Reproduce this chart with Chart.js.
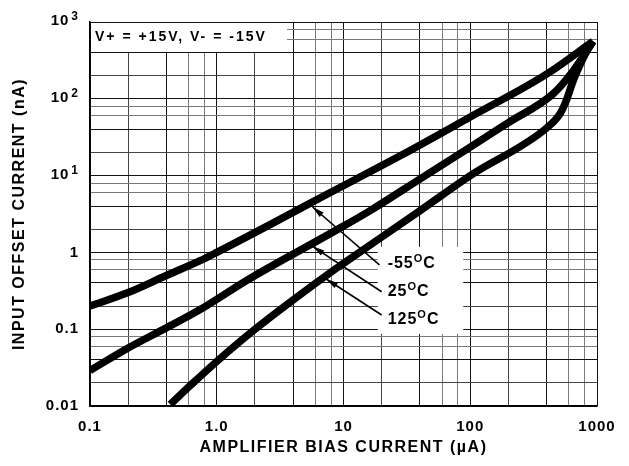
<!DOCTYPE html>
<html>
<head>
<meta charset="utf-8">
<script src="https://cdn.jsdelivr.net/npm/chart.js@4"></script>
<style>
  html, body { margin: 0; padding: 0; background: #fff; }
  #wrap { width: 629px; height: 466px; position: relative; }
</style>
</head>
<body>
<div id="wrap"><canvas id="chart"></canvas></div>
<script>
// Input offset current vs amplifier bias current (V+ = +15V, V- = -15V)
const seriesNames = ['-55', '25', '125'];

// -55°C curve
const biasNeg55 = [0.1, 0.2, 0.4, 0.74, 1, 2.5, 7.8, 28, 100, 403, 930];
const offsetNeg55 = [0.2, 0.3, 0.5, 0.78, 1.0, 2.2, 5.97, 18.1, 58, 211, 560];

// 25°C curve
const bias25 = [0.1, 0.2, 0.4, 0.74, 1.8, 8.3, 16, 40, 100, 200, 450, 650, 930];
const offset25 = [0.029, 0.057, 0.104, 0.18, 0.45, 1.85, 3.45, 9, 23.5, 49, 116, 232, 560];

// 125°C curve
const bias125 = [0.43, 0.63, 1, 1.93, 4, 8.9, 10, 40, 100, 403, 511, 567, 647, 700, 834, 930];
const offset125 = [0.0105, 0.019, 0.038, 0.095, 0.24, 0.63, 0.72, 3.48, 10, 42, 64, 91, 170, 232, 422, 560];

const xTickValues = [0.1, 1, 10, 100, 1000];
const xTickLabels = ['0.1', '1.0', '10', '100', '1000'];
const yTickValues = [0.01, 0.1, 1, 10, 100, 1000];
const yTickLabels = ['0.01', '0.1', '1', '10^1', '10^2', '10^3'];
const gridSteps = [1, 2, 4, 6, 8];

const FONT = '"Liberation Sans", Arial, Helvetica, sans-serif';

function gridValues(min, max) {
    const out = [];
    for (let e = Math.round(Math.log10(min)); e <= Math.round(Math.log10(max)); e++) {
        gridSteps.forEach(s => {
            const v = s * Math.pow(10, e);
            if (v <= max * 1.0001) out.push(v);
        });
    }
    return out;
}

function gridColor(ctx) {
    const v = ctx.tick ? ctx.tick.value : 1;
    const m = Math.round(v / Math.pow(10, Math.floor(Math.log10(v) + 1e-9)));
    if (m === 6 || m === 8) return '#7a7a7a';
    if (m === 2) return '#444';
    return '#111';
}

function toPoints(xs, ys) {
    return xs.map((x, i) => ({ x: x, y: ys[i] }));
}

function arrow(ctx, x1, y1, x2, y2) {
    ctx.beginPath();
    ctx.moveTo(x1, y1);
    ctx.lineTo(x2, y2);
    ctx.stroke();
    const a = Math.atan2(y2 - y1, x2 - x1), len = 12, half = 3;
    ctx.beginPath();
    ctx.moveTo(x2, y2);
    ctx.lineTo(x2 - len * Math.cos(a) + half * Math.sin(a), y2 - len * Math.sin(a) - half * Math.cos(a));
    ctx.lineTo(x2 - len * Math.cos(a) - half * Math.sin(a), y2 - len * Math.sin(a) + half * Math.cos(a));
    ctx.closePath();
    ctx.fill();
}

// callouts: label anchor, arrow tail and tip, all in data units
const callouts = [
    { text: [22.3, 0.63], tail: [19.2, 0.69], tip: [5.7, 3.9] },
    { text: [22.3, 0.272], tail: [20, 0.307], tip: [5.7, 1.2] },
    { text: [22.3, 0.118], tail: [20, 0.153], tip: [7.3, 0.45] }
];

const decorations = {
    id: 'decorations',
    beforeDraw(chart) {
        chart.ctx.letterSpacing = '1px';
    },
    beforeDatasetsDraw(chart) {
        const { ctx, chartArea: ca, scales: { x, y } } = chart;
        ctx.save();
        ctx.fillStyle = '#fff';
        // supply voltage box, top left
        ctx.fillRect(ca.left + 1, ca.top + 1, 196, 29);
        // callout label box
        const bx1 = x.getPixelForValue(18.6), bx2 = x.getPixelForValue(88);
        const by1 = y.getPixelForValue(1.18), by2 = y.getPixelForValue(0.087);
        ctx.fillRect(bx1, by1, bx2 - bx1, by2 - by1);
        ctx.restore();
    },
    afterDatasetsDraw(chart) {
        const { ctx, chartArea: ca, scales: { x, y } } = chart;
        ctx.save();
        ctx.fillStyle = '#000';
        ctx.strokeStyle = '#000';
        ctx.lineWidth = 1.6;
        ctx.textBaseline = 'alphabetic';
        ctx.textAlign = 'left';
        ctx.font = 'bold 14px ' + FONT;
        ctx.letterSpacing = '2px';
        ctx.fillText('V+ = +15V, V- = -15V', ca.left + 5, ca.top + 19);

        callouts.forEach((c, i) => {
            arrow(ctx, x.getPixelForValue(c.tail[0]), y.getPixelForValue(c.tail[1]),
                x.getPixelForValue(c.tip[0]), y.getPixelForValue(c.tip[1]));
            let tx = x.getPixelForValue(c.text[0]);
            const ty = y.getPixelForValue(c.text[1]);
            ctx.letterSpacing = '1px';
            ctx.font = 'bold 16px ' + FONT;
            ctx.fillText(seriesNames[i], tx, ty);
            tx += ctx.measureText(seriesNames[i]).width;
            ctx.font = 'bold 11px ' + FONT;
            ctx.fillText('O', tx, ty - 6);
            tx += ctx.measureText('O').width;
            ctx.font = 'bold 16px ' + FONT;
            ctx.fillText('C', tx, ty);
        });
        ctx.restore();
    },
    afterDraw(chart) {
        const { ctx, chartArea: ca, scales: { y } } = chart;
        ctx.save();
        ctx.fillStyle = '#000';
        // y tick labels (with superscript exponents)
        const right = ca.left - 12;
        yTickValues.forEach((v, i) => {
            const py = y.getPixelForValue(v);
            const lab = yTickLabels[i];
            ctx.textAlign = 'right';
            ctx.letterSpacing = '1px';
            if (lab.indexOf('^') >= 0) {
                const parts = lab.split('^');
                ctx.font = 'bold 12px ' + FONT;
                ctx.textBaseline = 'alphabetic';
                ctx.fillText(parts[1], right + 1, py - 2);
                const ew = ctx.measureText(parts[1]).width;
                ctx.font = 'bold 15px ' + FONT;
                ctx.fillText(parts[0], right + 1 - ew - 2, py + 3);
            } else {
                ctx.font = 'bold 15px ' + FONT;
                ctx.textBaseline = 'middle';
                ctx.fillText(lab, right + 1, py);
            }
        });
        // axis titles
        ctx.font = 'bold 16px ' + FONT;
        ctx.letterSpacing = '1.5px';
        ctx.textAlign = 'center';
        ctx.textBaseline = 'middle';
        ctx.fillText('AMPLIFIER BIAS CURRENT (\u00B5A)', (ca.left + ca.right) / 2, 448);
        ctx.translate(20, (ca.top + ca.bottom) / 2);
        ctx.rotate(-Math.PI / 2);
        ctx.fillText('INPUT OFFSET CURRENT (nA)', 0, 0);
        ctx.restore();
    }
};

const lineStyle = {
    borderColor: '#000',
    backgroundColor: '#000',
    borderWidth: 7.5,
    pointRadius: 0,
    fill: false,
    cubicInterpolationMode: 'monotone',
    borderJoinStyle: 'round',
    borderCapStyle: 'butt'
};

new Chart(document.getElementById('chart'), {
    type: 'line',
    data: {
        datasets: [
            Object.assign({ label: '-55°C', data: toPoints(biasNeg55, offsetNeg55) }, lineStyle),
            Object.assign({ label: '25°C', data: toPoints(bias25, offset25) }, lineStyle),
            Object.assign({ label: '125°C', data: toPoints(bias125, offset125) }, lineStyle)
        ]
    },
    options: {
        responsive: true,
        maintainAspectRatio: false,
        animation: false,
        layout: { padding: { left: 0, right: 32, top: 22, bottom: 0 } },
        plugins: {
            legend: { display: false },
            tooltip: { enabled: false }
        },
        scales: {
            x: {
                type: 'logarithmic',
                min: 0.1,
                max: 1000,
                afterBuildTicks: s => { s.ticks = gridValues(0.1, 1000).map(v => ({ value: v })); },
                afterFit: s => { s.height = 60; },
                grid: { color: gridColor, lineWidth: 1, drawTicks: false },
                border: { display: true, color: '#000', width: 1.5 },
                ticks: {
                    autoSkip: false,
                    maxRotation: 0,
                    padding: 12,
                    color: '#000',
                    font: { family: FONT, size: 15, weight: 'bold' },
                    callback: v => {
                        const i = xTickValues.findIndex(t => Math.abs(t - v) / t < 1e-6);
                        return i >= 0 ? xTickLabels[i] : '';
                    }
                }
            },
            y: {
                type: 'logarithmic',
                min: 0.01,
                max: 1000,
                afterBuildTicks: s => { s.ticks = gridValues(0.01, 1000).map(v => ({ value: v })); },
                afterFit: s => { s.width = 90; },
                grid: { color: gridColor, lineWidth: 1, drawTicks: false },
                border: { display: true, color: '#000', width: 1.5 },
                ticks: { display: false }
            }
        }
    },
    plugins: [decorations]
});
</script>
</body>
</html>
